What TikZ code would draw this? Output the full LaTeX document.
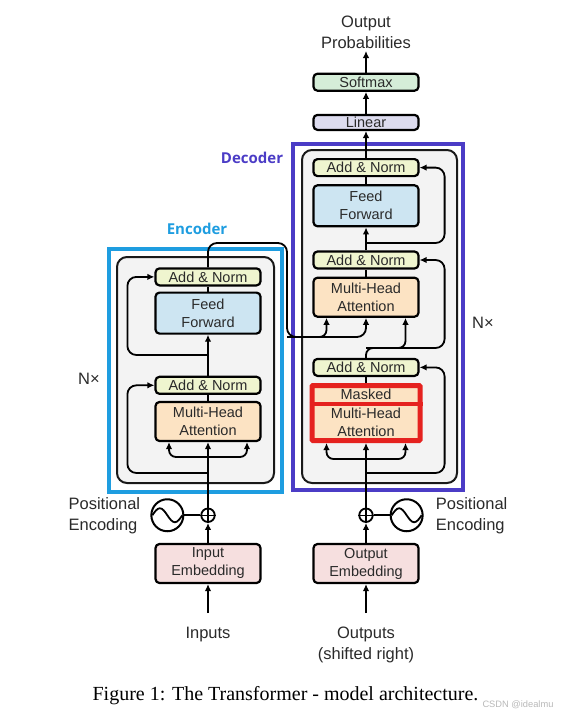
\documentclass[tikz,border=0pt]{standalone}
\usepackage{fontspec}
\setmainfont{Liberation Sans}
\newfontfamily\capfont{Liberation Serif}
\newfontfamily\titlefont{Open Sans}
\usetikzlibrary{arrows.meta, positioning, fit, backgrounds}
\definecolor{annorm}{HTML}{EFF5CF}
\definecolor{ffblue}{HTML}{CDE5F2}
\definecolor{attn}{HTML}{FCE3C3}
\definecolor{embed}{HTML}{F6DFDF}
\definecolor{smax}{HTML}{D5EDD8}
\definecolor{lin}{HTML}{DDDCEF}
\definecolor{stackgrey}{HTML}{F3F3F3}
\definecolor{encblue}{HTML}{1E9DE0}
\definecolor{decpurple}{HTML}{4B3CC6}
\definecolor{maskred}{HTML}{E5221F}
\definecolor{darktext}{HTML}{2A2A2A}

\begin{document}
\begin{tikzpicture}[
    x=1pt, y=1pt,
    block/.style={rectangle, draw=black, fill=#1, rounded corners=4pt, line width=2.2pt,
                  minimum width=105pt, align=center, inner sep=1pt, text=darktext,
                  font=\fontsize{14.5}{18}\selectfont},
    addnorm/.style={block=annorm, minimum height=17pt},
    ffblock/.style={block=ffblue, minimum height=41pt},
    mhablock/.style={block=attn, minimum height=39pt},
    masked/.style={block=attn, draw=maskred, line width=5pt, rounded corners=1pt,
                   minimum width=108pt, minimum height=55pt,
                   font=\fontsize{14.5}{18.5}\selectfont},
    plus/.style={circle, draw=black, line width=1.8pt, minimum size=13.5pt, inner sep=0pt},
    wave/.style={circle, draw=black, line width=2pt, minimum size=32pt, inner sep=0pt},
    lbl/.style={font=\fontsize{16.5}{21}\selectfont, text=darktext, inner sep=2pt},
    grouptitle/.style={font=\titlefont\bfseries\fontsize{15}{18}\selectfont},
    stackbox/.style={draw=black!90, fill=stackgrey, rounded corners=10pt, line width=2pt, inner sep=0pt},
    groupframe/.style={draw=#1, line width=4pt, inner sep=0pt},
    arr/.style={-{Latex[length=7pt,width=6.5pt]}, line width=1.8pt},
    wire/.style={line width=1.8pt},
    sinepath/.style={line width=1.8pt}
]
\useasboundingbox (0,0) rectangle (563,-720);

% Encoder side
\node[block=embed, minimum height=39pt] (inemb) at (208,-563.5) {Input\\Embedding};
\node[plus, above=20pt of inemb] (inplus) {};
\node[wave, left=16pt of inplus] (inpe) {};
\node[lbl, align=left, left=8pt of inpe] (inpelbl) {Positional\\Encoding};
\node[lbl, anchor=north] (inputs) at (208,-625) {Inputs};
\node[mhablock] (encmha) at (208,-421.5) {Multi-Head\\Attention};
\node[addnorm, above=6pt of encmha] (encan1) {Add \& Norm};
\node[ffblock, above=41pt of encan1] (encff) {Feed\\Forward};
\node[addnorm, above=5pt of encff] (encan2) {Add \& Norm};

% Decoder side
\node[block=embed, minimum height=39pt] (outemb) at (366,-563.5) {Output\\Embedding};
\node[plus, above=20pt of outemb] (outplus) {};
\node[wave, right=16pt of outplus] (outpe) {};
\node[lbl, align=left, right=10pt of outpe] (outpelbl) {Positional\\Encoding};
\node[lbl, anchor=north, align=center] (outputs) at (366,-625) {Outputs\\(shifted right)};
\node[masked] (decmmha) at (366,-413) {Masked\\Multi-Head\\Attention};
\node[addnorm, above=6pt of decmmha] (decan1) {Add \& Norm};
\node[mhablock, above=40pt of decan1] (decmha) {Multi-Head\\Attention};
\node[addnorm, above=7pt of decmha] (decan2) {Add \& Norm};
\node[ffblock, above=23pt of decan2] (decff) {Feed\\Forward};
\node[addnorm, above=7pt of decff] (decan3) {Add \& Norm};
\node[block=lin, minimum height=15pt, above=27pt of decan3] (linear) {Linear};
\node[block=smax, minimum height=17pt, above=22pt of linear] (softmax) {Softmax};
\node[lbl, anchor=south, align=center] (outprob) at (366,-51) {Output\\Probabilities};

% Titles and repeat marks
\node[grouptitle, text=encblue] (enctitle) at (197,-229) {Encoder};
\node[grouptitle, text=decpurple] (dectitle) at (252,-158) {Decoder};
\node[lbl] (encnx) at (89,-378.5) {N×};
\node[lbl] (decnx) at (483,-323) {N×};

% Caption
\node[font=\capfont\fontsize{20}{24}\selectfont, text=black] (caption) at (285.5,-696)
    {Figure 1: The Transformer - model architecture.};
\node[font=\fontsize{9.3}{11}\selectfont, text=black!28] (mark) at (518,-705) {CSDN @idealmu};

% Mask divider
\draw[maskred, line width=4pt] ([yshift=-21pt]decmmha.north west) -- ([yshift=-21pt]decmmha.north east);

% Encoder arrows
\draw[arr] ([yshift=12pt]inputs.north) -- (inemb);
\draw[arr] (inemb) -- (inplus);
\draw[wire] (inpe) -- (inplus);
\draw[line width=1.4pt] (inplus.north) -- (inplus.south) (inplus.west) -- (inplus.east);
\draw[sinepath] ([xshift=-15pt]inpe.center) sin ++(7.5,7) cos ++(7.5,-7) sin ++(7.5,-7) cos ++(7.5,7);
\draw[arr] (inplus) -- (encmha);
\coordinate (encfork) at (208,-457);
\draw[arr, rounded corners=7pt] (encfork) -| ([xshift=-39pt]encmha.south);
\draw[arr, rounded corners=7pt] (encfork) -| ([xshift=39pt]encmha.south);
\coordinate (encres1) at (208,-473);
\draw[arr, rounded corners=9pt] (encres1) -| ([xshift=-27pt]encan1.west) -- (encan1.west);
\draw[wire] (encmha) -- (encan1);
\draw[arr] (encan1) -- (encff);
\coordinate (encres2) at (208,-355);
\draw[arr, rounded corners=9pt] (encres2) -| ([xshift=-27pt]encan2.west) -- (encan2.west);
\draw[wire] (encff) -- (encan2);

% Encoder output into decoder attention
\coordinate (encturn) at (287,-243);
\coordinate (kvline) at (287,-337);
\draw[arr, rounded corners=9pt] (encan2) |- (encturn) -- (kvline) -| (decmha.south);
\draw[arr, rounded corners=7pt] (kvline) -| ([xshift=-39.5pt]decmha.south);

% Decoder arrows
\draw[arr] ([yshift=12pt]outputs.north) -- (outemb);
\draw[arr] (outemb) -- (outplus);
\draw[wire] (outpe) -- (outplus);
\draw[line width=1.4pt] (outplus.north) -- (outplus.south) (outplus.west) -- (outplus.east);
\draw[sinepath] ([xshift=-15pt]outpe.center) sin ++(7.5,7) cos ++(7.5,-7) sin ++(7.5,-7) cos ++(7.5,7);
\draw[arr] (outplus) -- (decmmha);
\coordinate (decfork) at (366,-459);
\draw[arr, rounded corners=7pt] (decfork) -| ([xshift=-39.5pt]decmmha.south);
\draw[arr, rounded corners=7pt] (decfork) -| ([xshift=39.5pt]decmmha.south);
\coordinate (decres1) at (366,-473);
\draw[arr, rounded corners=9pt] (decres1) -| ([xshift=25pt]decan1.east) -- (decan1.east);
\draw[wire] (decmmha) -- (decan1);
\coordinate (qturn) at (366,-348);
\draw[arr, rounded corners=7pt] (decan1.north) -- (qturn) -| ([xshift=39.5pt]decmha.south);
\draw[arr, rounded corners=9pt] (qturn) -| ([xshift=25pt]decan2.east) -- (decan2.east);
\draw[wire] (decmha) -- (decan2);
\draw[arr] (decan2) -- (decff);
\coordinate (decres3) at (366,-243);
\draw[arr, rounded corners=9pt] (decres3) -| ([xshift=25pt]decan3.east) -- (decan3.east);
\draw[wire] (decff) -- (decan3);
\draw[arr] (decan3) -- (linear);
\draw[arr] (linear) -- (softmax);
\draw[arr] (softmax) -- (outprob);

% Grouping
\begin{scope}[on background layer]
    \node[groupframe=encblue, fit={(109,-249) (282,-492)}] (encframe) {};
    \node[groupframe=decpurple, fit={(293,-144) (463,-490)}] (decframe) {};
    \node[stackbox, fit={(117,-257) (274,-483)}] (encstack) {};
    \node[stackbox, fit={(302,-150) (457,-483)}] (decstack) {};
\end{scope}

\end{tikzpicture}
\end{document}
